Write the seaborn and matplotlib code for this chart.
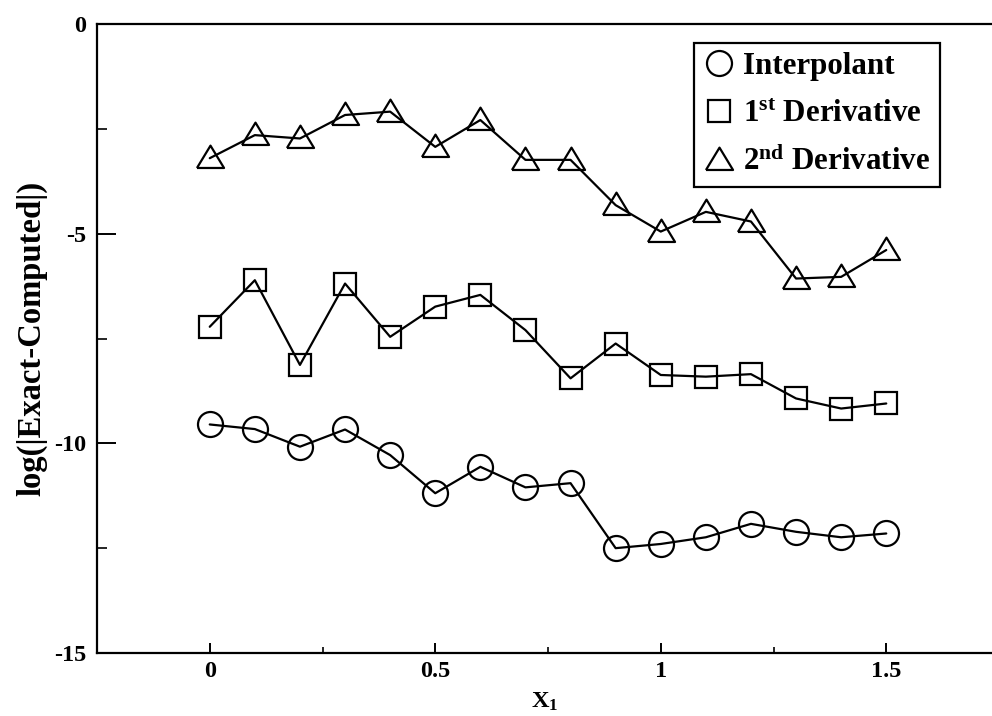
import matplotlib
matplotlib.use("Agg")
import matplotlib.pyplot as plt
from matplotlib.lines import Line2D
from matplotlib.ticker import FixedLocator
import pandas as pd
import seaborn as sns

# ---- data ----
x_vals = [0.0, 0.1, 0.2, 0.3, 0.4, 0.5, 0.6, 0.7, 0.8, 0.9, 1.0, 1.1, 1.2, 1.3, 1.4, 1.5]
interpolant = [-9.55, -9.66, -10.08, -9.67, -10.28, -11.19, -10.56, -11.05,
               -10.95, -12.50, -12.40, -12.24, -11.92, -12.11, -12.24, -12.15]
first_deriv = [-7.22, -6.11, -8.13, -6.19, -7.46, -6.74, -6.46, -7.30,
               -8.45, -7.62, -8.37, -8.41, -8.35, -8.93, -9.17, -9.05]
second_deriv = [-3.20, -2.65, -2.73, -2.17, -2.09, -2.93, -2.29, -3.24,
                -3.24, -4.32, -4.95, -4.48, -4.71, -6.07, -6.03, -5.39]
series_names = ["Interpolant", "1st Derivative", "2nd Derivative"]
legend_labels = ["Interpolant", r"1$^{\mathrm{st}}$ Derivative", r"2$^{\mathrm{nd}}$ Derivative"]
x_ticks = [0, 0.5, 1, 1.5]
x_tick_labels = ["0", "0.5", "1", "1.5"]
x_minor = [0.25, 0.75, 1.25]
y_ticks = [0, -5, -10, -15]
y_tick_labels = ["0", "-5", "-10", "-15"]
y_minor = [-2.5, -7.5, -12.5]

df = pd.DataFrame({
    "x": x_vals * 3,
    "value": interpolant + first_deriv + second_deriv,
    "series": [s for s in series_names for _ in x_vals],
})

sns.set_style("ticks")
plt.rcParams["font.family"] = ["Liberation Serif", "DejaVu Serif"]
plt.rcParams["font.weight"] = "bold"
plt.rcParams["text.color"] = "black"
plt.rcParams["axes.labelcolor"] = "black"
plt.rcParams["xtick.color"] = "black"
plt.rcParams["ytick.color"] = "black"
plt.rcParams["mathtext.fontset"] = "custom"
plt.rcParams["mathtext.rm"] = "Liberation Serif:bold"
plt.rcParams["mathtext.bf"] = "Liberation Serif:bold"
plt.rcParams["mathtext.it"] = "Liberation Serif:bold"

tri = [(-1.0, -0.7), (1.0, -0.7), (0.0, 0.95), (-1.0, -0.7)]
marker_map = {"Interpolant": "o", "1st Derivative": "s", "2nd Derivative": tri}
size_map = {"Interpolant": 18, "1st Derivative": 16.5, "2nd Derivative": 19.5}

W, H = 992, 716
fig = plt.figure(figsize=(W / 100, H / 100), dpi=100)
left, right, top, bottom = 97, 992, 24, 653
ax = fig.add_axes([left / W, 1 - bottom / H, (right - left) / W, (bottom - top) / H])

for name in series_names:
    sub = df[df["series"] == name]
    sns.lineplot(data=sub, x="x", y="value", ax=ax, color="black",
                 marker=marker_map[name], markersize=size_map[name],
                 markerfacecolor="none", markeredgecolor="black",
                 markeredgewidth=1.6, linewidth=1.6, estimator=None,
                 sort=False, legend=False)

ax.set_xlim(-0.25, -0.25 + (right - left) / 451.0)
ax.set_ylim(-15, 0)
ax.xaxis.set_major_locator(FixedLocator(x_ticks))
ax.set_xticklabels(x_tick_labels)
ax.xaxis.set_minor_locator(FixedLocator(x_minor))
ax.yaxis.set_major_locator(FixedLocator(y_ticks))
ax.set_yticklabels(y_tick_labels)
ax.yaxis.set_minor_locator(FixedLocator(y_minor))

ax.tick_params(axis="x", which="major", direction="in", length=7, width=1.4,
               labelsize=17.5, pad=6, colors="black")
ax.tick_params(axis="x", which="minor", direction="in", length=4, width=1.2)
ax.tick_params(axis="y", which="major", direction="in", length=14, width=1.4,
               labelsize=17.5, pad=8, colors="black")
ax.tick_params(axis="y", which="minor", direction="in", length=7, width=1.2)
ax.tick_params(top=False, right=False)

for side in ["left", "bottom", "top"]:
    ax.spines[side].set_linewidth(1.6)
    ax.spines[side].set_color("black")
ax.spines["right"].set_visible(False)

ax.set_xlabel(r"X$_{\mathrm{1}}$", fontsize=17.5, fontweight="bold", labelpad=6,
              color="black")
ax.set_ylabel("log(|Exact-Computed|)", fontsize=23.5, fontweight="bold",
              color="black")
ax.yaxis.set_label_coords(-50 / (right - left), 0.5)

handles = [Line2D([], [], linestyle="none", marker=marker_map[n],
                  markersize=size_map[n], markerfacecolor="none",
                  markeredgecolor="black", markeredgewidth=1.6)
           for n in series_names]
leg = ax.legend(handles, legend_labels, loc="upper right",
                bbox_to_anchor=(940 / W, 1 - 43 / H), bbox_transform=fig.transFigure,
                borderaxespad=0, fontsize=22.3, frameon=True, fancybox=False,
                framealpha=1, edgecolor="black", handlelength=1.0,
                handletextpad=0.3, labelspacing=0.6, borderpad=0.3)
leg.get_frame().set_linewidth(1.6)
for t in leg.get_texts():
    t.set_fontweight("bold")
    t.set_color("black")

fig.savefig("out.png", dpi=100)
